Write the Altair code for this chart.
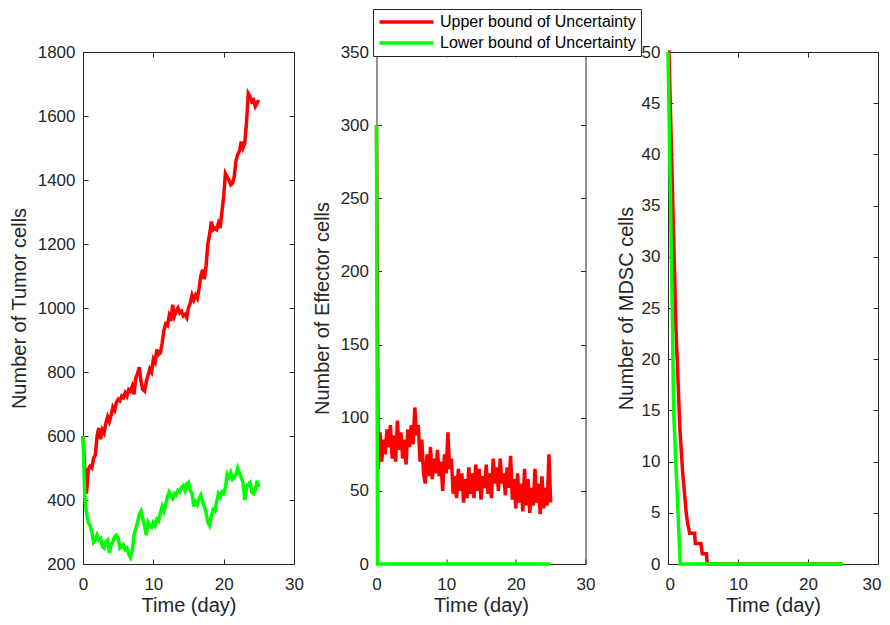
import altair as alt
import pandas as pd

SERIES = ["Upper bound of Uncertainty", "Lower bound of Uncertainty"]
COLORS = ["#ff0000", "#00ff00"]
X_TICKS = [0, 10, 20, 30]

# sampling times (days) for the noisy trajectories: 0, 0.25, ..., 25
TIME_GRID = [i / 4 for i in range(101)]

TUMOR_UPPER = [
    600, 500, 420, 495,
    505, 500, 530, 540,
    600, 625, 590, 620,
    610, 640, 660, 645,
    665, 690, 680, 705,
    715, 710, 725, 720,
    735, 725, 745, 740,
    755, 730, 780, 795,
    815, 770, 745, 740,
    770, 790, 810, 800,
    840, 830, 870, 855,
    860, 890, 930, 950,
    945, 975, 960, 1010,
    975, 990, 1000, 985,
    990, 975, 980, 970,
    1000, 1015, 1040, 1025,
    1040, 1030, 1060, 1100,
    1120, 1090, 1130, 1200,
    1230, 1270, 1245, 1250,
    1245, 1265, 1250, 1300,
    1350, 1420, 1410, 1400,
    1385, 1390, 1410, 1460,
    1480, 1490, 1520, 1500,
    1515, 1580, 1670, 1660,
    1645, 1650, 1630, 1640,
    1650,
]

TUMOR_LOWER = [
    600, 410, 360, 330,
    320, 300, 268, 275,
    290, 275, 280, 255,
    250, 270, 275, 235,
    260, 270, 285, 290,
    280, 250, 255, 260,
    245, 250, 230, 220,
    240, 290, 310, 330,
    355, 365, 340, 320,
    290, 330, 320, 315,
    330, 320, 340, 335,
    360, 380, 365, 385,
    410, 425, 415, 405,
    420, 415, 430, 425,
    440, 445, 430, 450,
    455, 430, 420, 380,
    395, 385, 405, 415,
    395, 380, 360, 330,
    320, 350, 370, 365,
    395, 420, 410, 425,
    420, 440, 480, 470,
    485, 465, 470, 480,
    500, 485, 470, 455,
    400, 440, 450, 455,
    425, 420, 430, 460,
    440,
]

EFFECTOR_UPPER = [
    300, 65, 90, 70,
    85, 75, 92, 80,
    95, 72, 88, 70,
    98, 78, 90, 72,
    85, 68, 92, 80,
    95, 82, 107, 88,
    95, 70, 85, 62,
    55, 75, 60, 80,
    58, 72, 62, 78,
    60, 70, 50, 75,
    62, 90, 65, 72,
    48, 60, 45, 65,
    50, 62, 42, 58,
    45, 66, 48, 62,
    45, 68, 50, 65,
    44, 60, 52, 68,
    48, 62, 45, 72,
    55, 66, 50, 72,
    55, 62, 47, 66,
    52, 74, 44, 58,
    38, 62, 42, 55,
    36, 65, 40, 58,
    35, 52, 40, 65,
    42, 55, 34, 60,
    38, 52, 40, 75,
    42,
]

EFFECTOR_LOWER_T = [0, 0.15, 25]
EFFECTOR_LOWER = [300, 0, 0]

MDSC_UPPER_T = [0, 0.14, 1.14, 1.5, 1.7, 2.1, 2.6, 2.8, 3.1, 3.8, 3.9, 4.7, 4.9, 5.5, 5.6, 25]
MDSC_UPPER = [50, 50, 23, 16.7, 13.2, 8.9, 5, 4, 3, 3, 2, 2, 1, 1, 0, 0]

MDSC_LOWER_T = [0, 0.15, 0.65, 0.8, 1.3, 1.75, 25]
MDSC_LOWER = [50, 44, 23, 15, 7, 0, 0]

TUMOR_TICKS = [200, 400, 600, 800, 1000, 1200, 1400, 1600, 1800]
EFFECTOR_TICKS = [0, 50, 100, 150, 200, 250, 300, 350]
MDSC_TICKS = [0, 5, 10, 15, 20, 25, 30, 35, 40, 45, 50]

FONT = "Liberation Sans"
INK = "#262626"
PLOT_H = 512
LW = 3.5


def frame(t, v, s):
    return pd.DataFrame({"t": t, "v": v, "s": s})


def panel(red_df, green_df, ydom, yticks, ytitle, w, legend, tpad, flush):
    xscale = alt.Scale(domain=[0, 30], nice=False, zero=False)
    yscale = alt.Scale(domain=ydom, nice=False, zero=False)
    x = alt.X("t:Q", scale=xscale,
              axis=alt.Axis(values=X_TICKS, title="Time (day)", format="d", offset=-5, tickSize=5,
                            labelPadding=12, titlePadding=3, domain=False, grid=False,
                            labelFlush=flush, labelFlushOffset=3))
    y = alt.Y("v:Q", scale=yscale,
              axis=alt.Axis(values=yticks, title=ytitle, format="d", offset=-5, tickSize=5,
                            labelPadding=8, titlePadding=tpad, domain=False, grid=False,
                            labelFlush=False))
    color = alt.Color("s:N", scale=alt.Scale(domain=SERIES, range=COLORS), legend=legend)
    red = alt.Chart(red_df).mark_line(strokeWidth=LW, clip=False).encode(x=x, y=y, color=color)
    green = alt.Chart(green_df).mark_line(strokeWidth=LW, clip=False).encode(x=x, y=y, color=color)
    lines = alt.layer(red, green)
    ghost = alt.Chart(red_df).mark_line(opacity=0).encode(
        x=alt.X("t:Q", scale=xscale,
                axis=alt.Axis(orient="top", values=X_TICKS, labels=False, title=None,
                              offset=-5, tickSize=5, domain=False, grid=False)),
        y=alt.Y("v:Q", scale=yscale,
                axis=alt.Axis(orient="right", values=yticks, labels=False, title=None,
                              offset=-5, tickSize=5, domain=False, grid=False)),
    )
    return alt.layer(lines, ghost).resolve_scale(x="independent", y="independent").properties(
        width=w, height=PLOT_H)


legend = alt.Legend(orient="none", legendX=-3.5, legendY=-43, title=None,
                    symbolType="M-1.3,0H9.5", symbolStrokeWidth=LW, symbolSize=100,
                    labelFontSize=16, labelFont=FONT, labelColor="#000000", labelLimit=400,
                    fillColor="#ffffff", strokeColor=INK, padding=5, rowPadding=5,
                    labelOffset=46)

p1 = panel(frame(TIME_GRID, TUMOR_UPPER, SERIES[0]), frame(TIME_GRID, TUMOR_LOWER, SERIES[1]),
           [200, 1800], TUMOR_TICKS, "Number of Tumor cells", 211, None, 8, False)
p2 = panel(frame(TIME_GRID, EFFECTOR_UPPER, SERIES[0]),
           frame(EFFECTOR_LOWER_T, EFFECTOR_LOWER, SERIES[1]),
           [0, 350], EFFECTOR_TICKS, "Number of Effector cells", 209, legend, 8, False)
p3 = panel(frame(MDSC_UPPER_T, MDSC_UPPER, SERIES[0]), frame(MDSC_LOWER_T, MDSC_LOWER, SERIES[1]),
           [0, 50], MDSC_TICKS, "Number of MDSC cells", 210, None, 5, True)

chart = alt.hconcat(p1, p2, p3, spacing=82.5, bounds="flush").resolve_scale(
    color="independent"
).properties(
    padding={"left": 0, "top": 0, "right": 0, "bottom": 0}
).configure_view(
    stroke=INK, strokeWidth=1
).configure_axis(
    labelFont=FONT, labelFontSize=17, labelColor=INK,
    titleFont=FONT, titleFontSize=20, titleFontWeight="normal", titleColor=INK,
    tickColor=INK, tickWidth=1
)

chart.save("out.html", embed_options={"renderer": "svg", "actions": False})
